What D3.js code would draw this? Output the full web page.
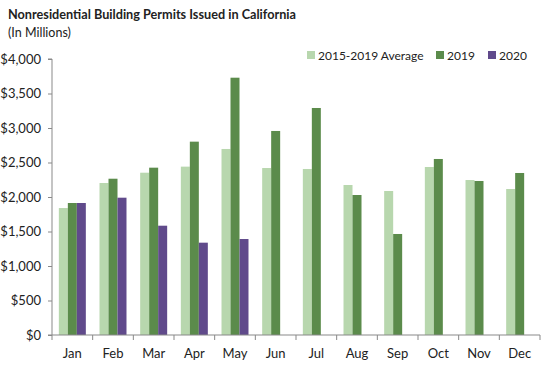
<!DOCTYPE html>
<html><head><meta charset="utf-8">
<script src="https://cdn.jsdelivr.net/npm/d3@7"></script>
<style>body{margin:0;background:#fff}svg{display:block}text{font-family:Lato,"Open Sans",sans-serif;fill:#222}</style>
</head><body><svg id="c" width="549" height="368"></svg>
<script>
const months = ["Jan","Feb","Mar","Apr","May","Jun","Jul","Aug","Sep","Oct","Nov","Dec"];
const seriesNames = ["2015-2019 Average","2019","2020"];
const avg = [1840,2203,2352,2440,2696,2420,2406,2174,2087,2435,2246,2116];
const y2019 = [1913,2265,2425,2802,3729,2957,3290,2029,1464,2551,2232,2348];
const y2020 = [1913,1990,1584,1338,1391,null,null,null,null,null,null,null];
const yTicks = [0,500,1000,1500,2000,2500,3000,3500,4000];
const colors = ["#b8d7ae","#5b8b4b","#604a8b"];

const svg = d3.select("#c");
const m = {l:52, r:540, t:59, b:335};
const x = d3.scaleBand().domain(months).range([m.l, m.r]).paddingInner(0).paddingOuter(0);
const inner = d3.scaleBand().domain([0,1,2]).range([0, x.bandwidth()]).paddingOuter(0.76).paddingInner(0);
const y = d3.scaleLinear().domain([0,4000]).range([m.b, m.t]);

svg.append("text").attr("x",8).attr("y",19).style("font-size","14px").style("font-weight","bold")
  .attr("textLength",288).attr("lengthAdjust","spacingAndGlyphs")
  .text("Nonresidential Building Permits Issued in California");
svg.append("text").attr("x",8).attr("y",37).style("font-size","12.5px").text("(In Millions)");

const data = [avg,y2019,y2020];
data.forEach((s,si)=>{
  svg.append("g").selectAll("rect").data(months.map((mo,i)=>({mo,v:s[i]})).filter(d=>d.v!=null))
    .join("rect")
    .attr("x",d=>x(d.mo)+inner(si)).attr("width",inner.bandwidth())
    .attr("y",d=>y(d.v)).attr("height",d=>y(0)-y(d.v)).attr("fill",colors[si]);
});

const ya = svg.append("g").attr("transform",`translate(${m.l},0)`)
  .call(d3.axisLeft(y).tickValues(yTicks).tickSize(4).tickPadding(7).tickFormat(d=>"$"+d3.format(",")(d)));
ya.select(".domain").attr("stroke","#898989").attr("d",`M-4,${m.t}H0V${m.b}H-4`);
ya.selectAll("line").attr("stroke","#898989");
ya.selectAll("text").style("font-size","13px").style("font-family","Lato,sans-serif").attr("fill","#222");

const xa = svg.append("g").attr("transform",`translate(0,${m.b})`);
xa.append("line").attr("x1",m.l).attr("x2",m.r).attr("stroke","#898989");
xa.selectAll("line.t").data(d3.range(13)).join("line").attr("class","t")
  .attr("x1",i=>m.l+i*x.step()).attr("x2",i=>m.l+i*x.step()).attr("y1",0).attr("y2",5).attr("stroke","#898989");
xa.selectAll("text").data(months).join("text").attr("x",d=>x(d)+x.bandwidth()/2).attr("y",23)
  .attr("text-anchor","middle").style("font-size","13px").text(d=>d);

const lx = [307,436,488];
const lg = svg.append("g");
seriesNames.forEach((n,i)=>{
  lg.append("rect").attr("x",lx[i]).attr("y",51).attr("width",8).attr("height",8).attr("fill",colors[i]);
  lg.append("text").attr("x",lx[i]+11).attr("y",59.5).style("font-size","12px").text(n);
});
</script></body></html>
